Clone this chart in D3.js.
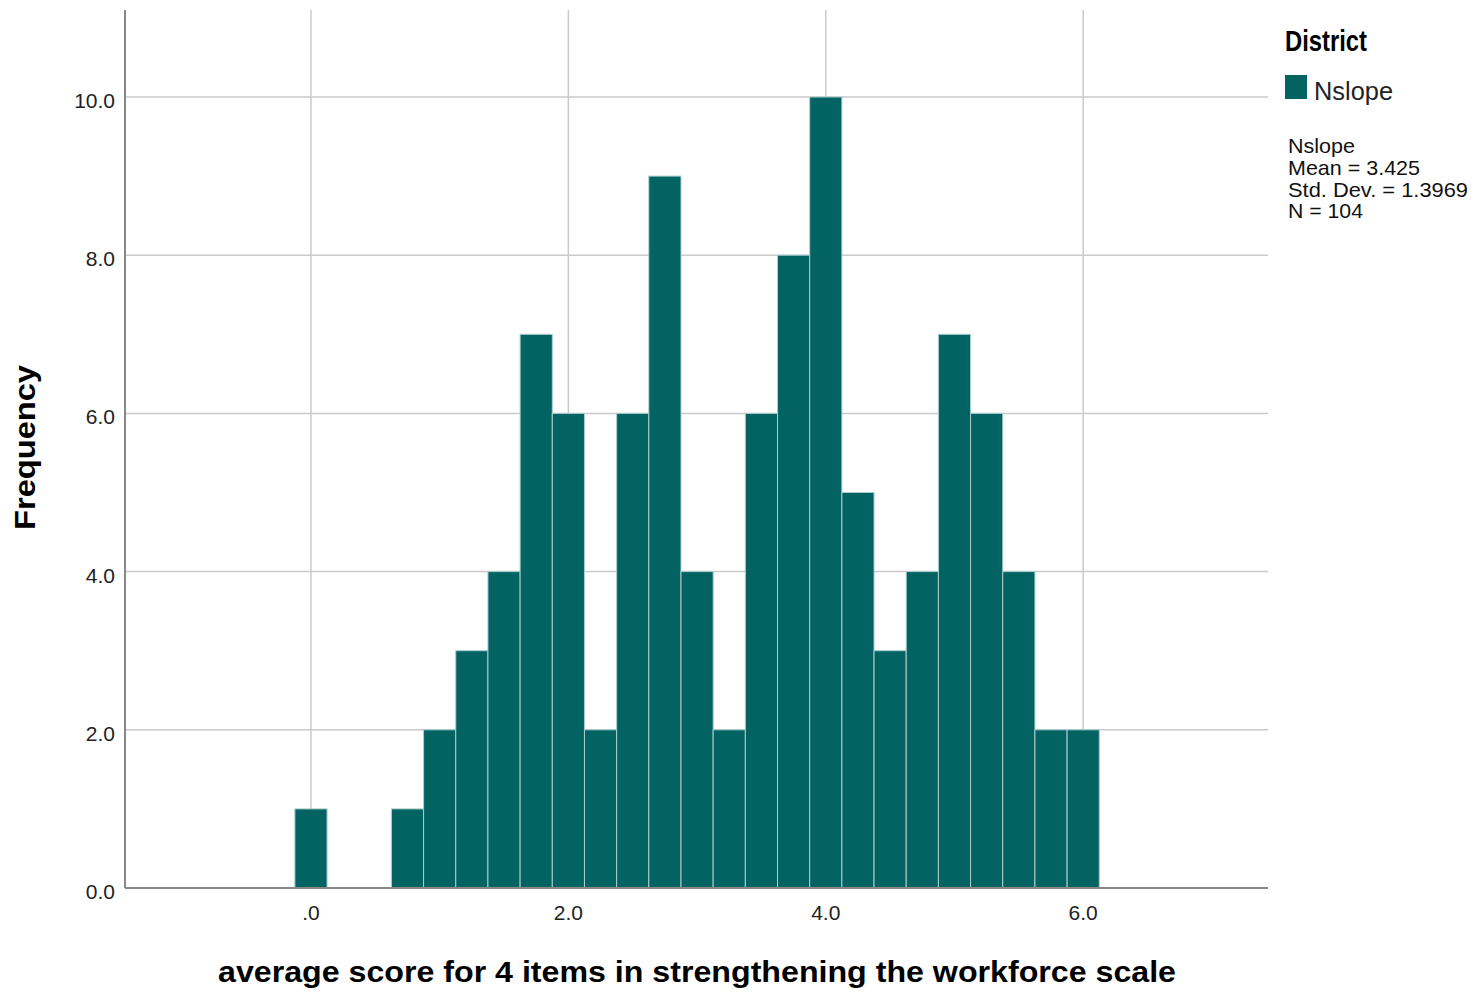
<!DOCTYPE html>
<html>
<head>
<meta charset="utf-8">
<script src="https://cdn.jsdelivr.net/npm/d3@7"></script>
<style>
  body { margin: 0; background: #fff; }
  text { font-family: "Liberation Sans", Arial, sans-serif; }
</style>
</head>
<body>
<svg id="chart"></svg>
<script>
// bin centres (width 0.25) and their counts
const binCenters = [0, 0.25, 0.5, 0.75, 1.0, 1.25, 1.5, 1.75, 2.0, 2.25, 2.5, 2.75, 3.0,
  3.25, 3.5, 3.75, 4.0, 4.25, 4.5, 4.75, 5.0, 5.25, 5.5, 5.75, 6.0];
const counts = [1, 0, 0, 1, 2, 3, 4, 7, 6, 2, 6, 9, 4, 2, 6, 8, 10, 5, 3, 4, 7, 6, 4, 2, 2];
const binWidth = 0.25;
const xTicks = [0, 2, 4, 6];
const yTicks = [0, 2, 4, 6, 8, 10];
const legendTitle = 'District';
const seriesName = 'Nslope';
const statLines = ['Nslope', 'Mean = 3.425', 'Std. Dev. = 1.3969', 'N = 104'];

const W = 1476, H = 992;
const margin = { top: 10, right: 208, bottom: 104, left: 125 };
const width = W - margin.left - margin.right;
const height = H - margin.top - margin.bottom;
const barColor = '#036262';

const svg = d3.select('#chart').attr('width', W).attr('height', H);
const g = svg.append('g').attr('transform', `translate(${margin.left},${margin.top})`);

const x = d3.scaleLinear().domain([-1.445, 7.436]).range([0, width]);
const y = d3.scaleLinear().domain([0, 11.1]).range([height, 0]);

// gridlines
g.append('g').selectAll('line').data(xTicks).join('line')
  .attr('x1', d => x(d)).attr('x2', d => x(d))
  .attr('y1', 0).attr('y2', height)
  .attr('stroke', '#cacaca').attr('stroke-width', 1.5);
g.append('g').selectAll('line').data(yTicks.filter(d => d > 0)).join('line')
  .attr('x1', 0).attr('x2', width)
  .attr('y1', d => y(d)).attr('y2', d => y(d))
  .attr('stroke', '#cacaca').attr('stroke-width', 1.5);

// bars
const data = binCenters.map((c, i) => ({ c, n: counts[i] })).filter(d => d.n > 0);
g.selectAll('rect.bar').data(data).join('rect')
  .attr('class', 'bar')
  .attr('x', d => x(d.c - binWidth / 2))
  .attr('width', d => x(d.c + binWidth / 2) - x(d.c - binWidth / 2))
  .attr('y', d => y(d.n))
  .attr('height', d => y(0) - y(d.n))
  .attr('fill', barColor)
  .attr('stroke', '#a9cfcf')
  .attr('stroke-width', 1);

// axis lines
g.append('line').attr('x1', 0).attr('x2', 0).attr('y1', 0).attr('y2', height)
  .attr('stroke', '#888').attr('stroke-width', 2);
g.append('line').attr('x1', 0).attr('x2', width).attr('y1', height).attr('y2', height)
  .attr('stroke', '#888').attr('stroke-width', 2);

// tick labels
const fmt = d => d === 0 ? '.0' : d3.format('.1f')(d);
g.selectAll('text.xt').data(xTicks).join('text')
  .attr('x', d => x(d)).attr('y', height + 32)
  .attr('text-anchor', 'middle').attr('font-size', 21).attr('fill', '#222')
  .text(fmt);
g.selectAll('text.yt').data(yTicks).join('text')
  .attr('x', -10).attr('y', d => y(d) + 11)
  .attr('text-anchor', 'end').attr('font-size', 21).attr('fill', '#222')
  .text(d => d3.format('.1f')(d));

// axis titles
svg.append('text')
  .attr('x', 218).attr('y', 982)
  .attr('font-size', 30).attr('font-weight', 'bold')
  .attr('textLength', 958).attr('lengthAdjust', 'spacingAndGlyphs')
  .text('average score for 4 items in strengthening the workforce scale');
svg.append('text')
  .attr('transform', `translate(35,530) rotate(-90)`)
  .attr('font-size', 30).attr('font-weight', 'bold')
  .attr('textLength', 165).attr('lengthAdjust', 'spacingAndGlyphs')
  .text('Frequency');

// legend
const lg = svg.append('g').attr('transform', 'translate(1285,0)');
lg.append('text').attr('x', 0).attr('y', 51).attr('font-size', 30).attr('font-weight', 'bold')
  .attr('textLength', 82).attr('lengthAdjust', 'spacingAndGlyphs')
  .text(legendTitle);
lg.append('rect').attr('x', 0).attr('y', 75).attr('width', 22).attr('height', 24).attr('fill', barColor);
lg.append('text').attr('x', 29).attr('y', 100).attr('font-size', 25).attr('fill', '#222')
  .attr('textLength', 79).attr('lengthAdjust', 'spacingAndGlyphs')
  .text(seriesName);
const statWidths = [67, 132, 180, 75];
lg.selectAll('text.stat').data(statLines).join('text')
  .attr('x', 3).attr('y', (d, i) => [153, 175, 197, 218][i])
  .attr('font-size', 21).attr('fill', '#111')
  .attr('textLength', (d, i) => statWidths[i]).attr('lengthAdjust', 'spacingAndGlyphs')
  .text(d => d);
</script>
</body>
</html>
